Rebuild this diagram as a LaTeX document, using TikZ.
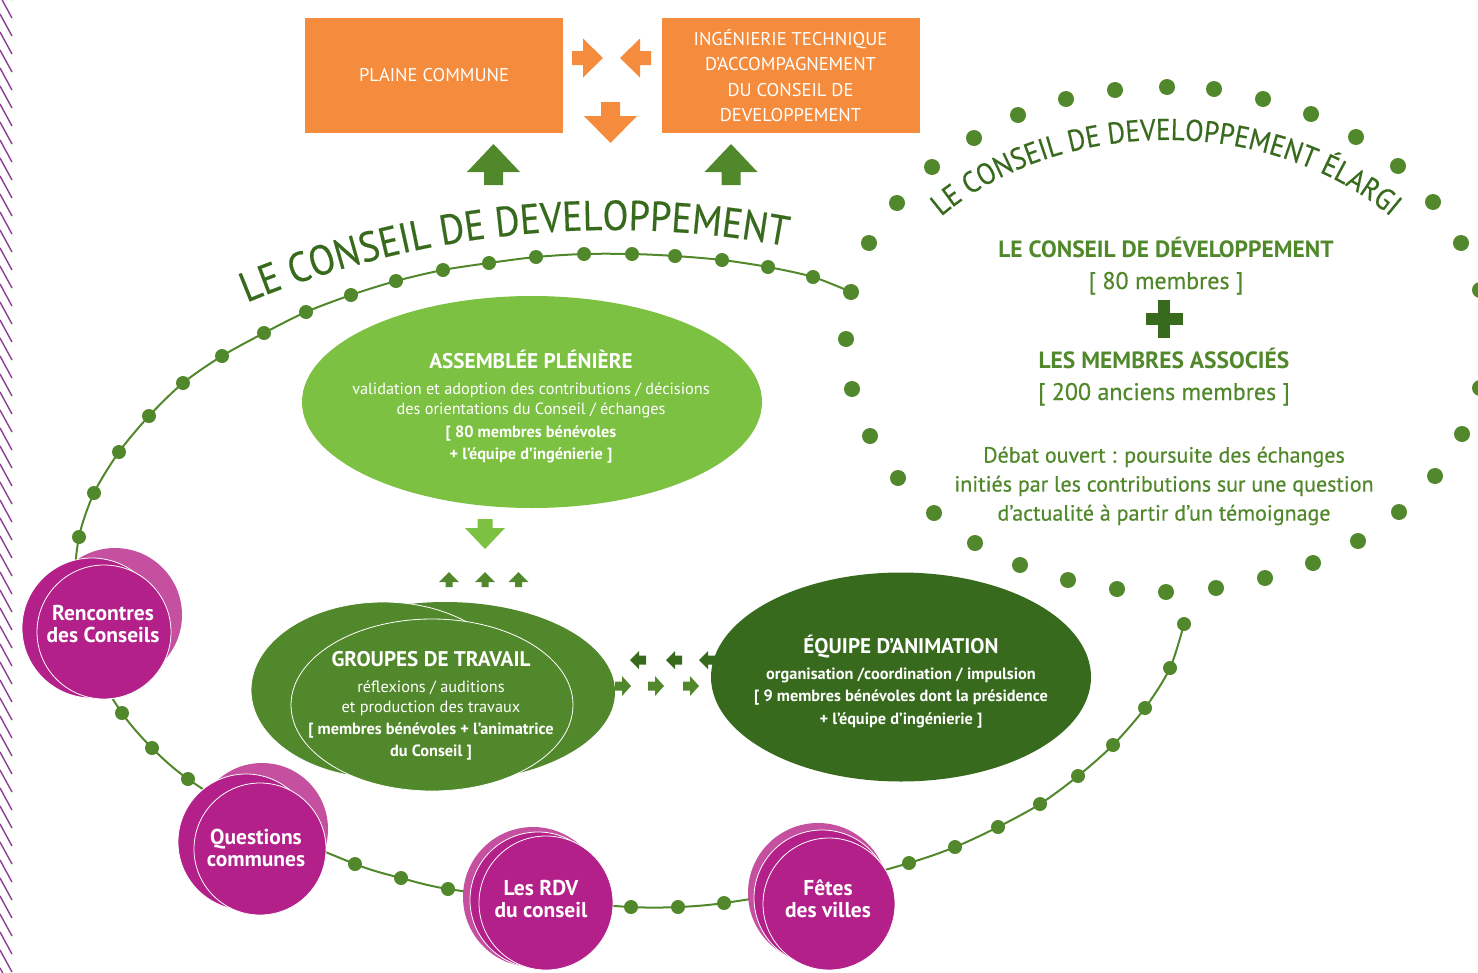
\documentclass[tikz,border=0pt]{standalone}
\usepackage{fontspec}
\setmainfont{PT Sans}
\newfontfamily\medfont{PT Sans}[FakeBold=0.6]
\newfontfamily\curvefont{PT Sans}[FakeStretch=0.9,FakeBold=0.4]
\usetikzlibrary{shapes.geometric,decorations.text}

\definecolor{orangeCD}{HTML}{F58C3D}
\definecolor{greenAP}{HTML}{7CC142}
\definecolor{greenGT}{HTML}{52882C}
\definecolor{greenEA}{HTML}{386A1E}
\definecolor{magentaR}{HTML}{B3208A}
\definecolor{magentaL}{HTML}{C4509F}
\definecolor{violetS}{HTML}{8C3E96}

\newcommand{\cdBox}{\fontsize{18.5}{25.4}\selectfont}
\newcommand{\cdTitle}{\bfseries\fontsize{21.2}{24}\selectfont}
\newcommand{\cdBody}{\fontsize{16.3}{21}\selectfont}
\newcommand{\cdBubble}{\bfseries\fontsize{21.5}{22}\selectfont}
\newcommand{\cdHead}{\bfseries\fontsize{23.5}{28}\selectfont}
\newcommand{\cdMembres}{\medfont\fontsize{24}{28}\selectfont}
\newcommand{\cdDebat}{\medfont\fontsize{22}{29}\selectfont}
\newcommand{\cdCurveBig}{\curvefont\fontsize{42}{44}\selectfont}
\newcommand{\cdCurveSmall}{\curvefont\fontsize{30}{32}\selectfont}

\begin{document}
\begin{tikzpicture}[x=1pt,y=-1pt,
    orangebox/.style={rectangle, fill=orangeCD, text=white, inner sep=0,
        minimum width=258, minimum height=115, align=center, font=\cdBox},
    blobtext/.style={text=white, align=center, inner sep=0, font=\cdBody},
    bubble/.style={circle, fill=magentaR, draw=white, line width=0.8, inner sep=0},
    bubbletext/.style={text=white, align=center, inner sep=0, font=\cdBubble},
    elargitext/.style={text=greenGT, align=center, inner sep=0, anchor=base},
    pics/fatarrow/.style n args={4}{code={
        \fill (0,-#4) -- (#1-#2,-#4) -- (#1-#2,-#3) -- (#1,0)
          -- (#1-#2,#3) -- (#1-#2,#4) -- (0,#4) -- cycle;}}]
   \useasboundingbox (0,0) rectangle (1478,972);

   % 斜線
   \foreach \y in {-40,-22,...,990}
     \draw[violetS, line width=1.4] (0,\y) -- (12,\y+22);

   % 上の箱
   \node[orangebox] (plaine) at (434,75.5) {PLAINE COMMUNE};
   \node[orangebox] (ingenierie) at (790.5,75.5) {INGÉNIERIE TECHNIQUE\\D’ACCOMPAGNEMENT\\DU CONSEIL DE\\DEVELOPPEMENT};
   \pic[orangeCD] at (572,58) {fatarrow={31}{20}{19.5}{7}};
   \pic[orangeCD, rotate=180] at (651,58) {fatarrow={31}{20}{19.5}{7}};
   \pic[orangeCD, rotate=-90] at (610.5,102) {fatarrow={41}{27}{26.5}{9.5}};
   \pic[greenGT, rotate=90] at (493.5,185) {fatarrow={41}{28}{26.5}{9.5}};
   \pic[greenGT, rotate=90] at (731,185) {fatarrow={41}{28}{26.5}{9.5}};

   % 点線の楕円
   \foreach \p in {(851,292),(869,243),(897,203),(932,167),(974,138),(1018,115),
       (1066,99),(1115,90),(1167,87),(1214,89),(1263,99),(1311,114),(1356,137),
       (1398,166),(1433,202),(1461,243),(1480,290),(1486,340),(1480,388),
       (1462,434),(1435,476),(1399,512),(1358,541),(1313,563),(1265,578),
       (1216,588),(1166,592),(1117,589),(1068,580),(1020,565),(975,543),
       (934,513),(898,478),(870,436),(852,389),(846,339)}
     \fill[greenGT] \p circle (8);

   % 線と点
   \draw[greenGT, line width=2] plot[smooth] coordinates {(851,292) (813,277)
       (768,267) (722,260) (675,256) (632,254) (584,254) (536,257) (489,263)
       (443,270) (396,281) (351,295) (306,312) (264,333) (222,356) (183,383)
       (149,416) (119,452) (94,493) (79,537) (76,585) (92,660) (122,713)
       (152,748) (188,779) (258,822) (355,864) (401,878) (448,889) (540,900)
       (631,907) (678,907) (724,903) (820,887) (909,863) (955,847) (998,827)
       (1040,804) (1078,776) (1113,745) (1145,708) (1170,668) (1184,624)};
   \foreach \p in {(813,277),(768,267),(722,260),(675,256),(632,254),(584,254),
       (536,257),(489,263),(443,270),(396,281),(351,295),(306,312),(264,333),
       (222,356),(183,383),(149,416),(119,452),(94,493),(79,537),(122,713),
       (152,748),(188,779),(355,864),(401,878),(448,889),(631,907),(678,907),
       (724,903),(909,863),(955,847),(998,827),(1040,804),(1078,776),
       (1113,745),(1145,708),(1170,668),(1184,624)}
     \fill[greenGT] \p circle (7);

   % 曲がった題
   \path[decorate, decoration={text along path, text align=center, text color=greenEA,
       text={|\cdCurveBig|LE CONSEIL DE DEVELOPPEMENT}}]
     (612,1183) ++(-118:953) arc[start angle=-118, end angle=-74, radius=953];
   \path[decorate, decoration={text along path, text align=center, text color=greenEA,
       text={|\cdCurveSmall|LE CONSEIL DE DEVELOPPEMENT ÉLARGI}}]
     (1166,377) ++(-155:305 and 237) arc[start angle=-155, end angle=-25, x radius=305, y radius=237];

   % 小さい矢印
   \pic[greenAP, rotate=-90] at (485,519) {fatarrow={30}{21}{20}{7.5}};
   \foreach \x in {449,485,518.5}
     \pic[greenGT, rotate=90] at (\x,587) {fatarrow={15}{10}{10}{3.5}};
   \foreach \x in {630,666,699}
     \pic[greenEA, rotate=180] at (\x+16,660) {fatarrow={16}{9}{9}{4.5}};
   \foreach \x in {615,648,683}
     \pic[greenGT] at (\x,686) {fatarrow={16}{9}{10}{4.5}};

   % 楕円
   \node[ellipse, fill=greenAP, minimum width=460, minimum height=212, inner sep=0] (assemblee) at (532,402) {};
   \node[blobtext] (assembleetxt) at (531,407) {{\cdTitle ASSEMBLÉE PLÉNIÈRE}\\[5pt]
       validation et adoption des contributions / décisions\\[-1pt]
       des orientations du Conseil / échanges\\[2pt]
       {\bfseries [ 80 membres bénévoles}\\[1pt]
       {\bfseries + l’équipe d’ingénierie ]}};

   \fill[greenGT] (445,692) ellipse [x radius=170, y radius=90];
   \filldraw[fill=greenGT, draw=white, line width=0.8] (383,690) ellipse [x radius=132, y radius=88];
   \node[ellipse, fill=greenGT, draw=white, line width=0.8, minimum width=282, minimum height=172, inner sep=0] (groupes) at (432,705) {};
   \node[blobtext] (groupestxt) at (431,706) {{\cdTitle GROUPES DE TRAVAIL}\\[5pt]
       réflexions / auditions\\[-1pt]
       et production des travaux\\[1pt]
       {\bfseries [ membres bénévoles + l’animatrice}\\[1pt]
       {\bfseries du Conseil ]}};

   \node[ellipse, fill=greenEA, minimum width=380, minimum height=209, inner sep=0] (equipe) at (901,677) {};
   \node[blobtext, font=\cdBody\bfseries] (equipetxt) at (901,682) {{\cdTitle ÉQUIPE D’ANIMATION}\\[5pt]
       organisation /coordination / impulsion\\[1pt]
       {[ 9 membres bénévoles dont la présidence}\\[2pt]
       + l’équipe d’ingénierie ]};

   % 丸
   \fill[magentaL] (115,615) circle (67);
   \filldraw[fill=magentaR, draw=white, line width=0.8] (92,628) circle (70);
   \node[bubble, minimum size=134] (rencontres) at (104,632) {};
   \node[bubbletext] (rencontrestxt) at (103,624) {Rencontres\\des Conseils};

   \fill[magentaL] (262,829) circle (66);
   \filldraw[fill=magentaR, draw=white, line width=0.8] (246,842) circle (68);
   \node[bubble, minimum size=132] (questions) at (260,849) {};
   \node[bubbletext] (questionstxt) at (256,848) {Questions\\communes};

   \fill[magentaL] (533,897) circle (70);
   \filldraw[fill=magentaR, draw=white, line width=0.8] (538,900) circle (68);
   \node[bubble, minimum size=134] (rdv) at (546,903) {};
   \node[bubbletext] (rdvtxt) at (541,899) {Les RDV\\du conseil};

   \fill[magentaL] (818,893) circle (70);
   \filldraw[fill=magentaR, draw=white, line width=0.8] (822,898) circle (68);
   \node[bubble, minimum size=132] (fetes) at (829,904) {};
   \node[bubbletext] (fetestxt) at (828,899) {Fêtes\\des villes};

   % 右の文
   \node[elargitext, font=\cdHead] (cdhead) at (1166,257) {LE CONSEIL DE DÉVELOPPEMENT};
   \node[elargitext, font=\cdMembres] (cdmembres) at (1166,289) {[ 80 membres ]};
   \fill[greenEA] (1146,313) rectangle (1183,325);
   \fill[greenEA] (1158,300) rectangle (1170,338);
   \node[elargitext, font=\cdHead] (assocshead) at (1164,368) {LES MEMBRES ASSOCIÉS};
   \node[elargitext, font=\cdMembres] (assocsmembres) at (1164,400) {[ 200 anciens membres ]};
   \node[elargitext, anchor=center, font=\cdDebat] (debat) at (1164,486) {Débat ouvert : poursuite des échanges\\
       initiés par les contributions sur une question\\
       d’actualité à partir d’un témoignage};

\end{tikzpicture}
\end{document}
